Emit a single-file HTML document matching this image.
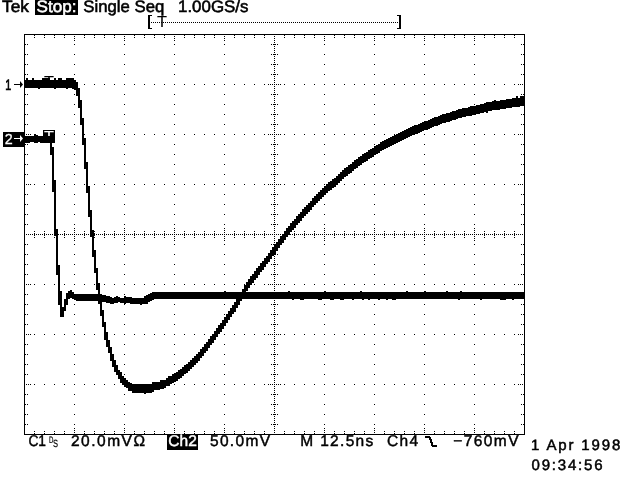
<!DOCTYPE html>
<html><head><meta charset="utf-8"><title>Tek</title>
<style>
html,body{margin:0;padding:0;background:#fff;}
body{width:640px;height:480px;overflow:hidden;position:relative;}
svg{position:absolute;left:0;top:0;display:block;}
text{font-family:"Liberation Sans",sans-serif;font-size:15.5px;fill:#000;stroke:#000;stroke-width:0.45px;}
.w{fill:#fff;stroke:#fff;}
.t{font-size:16.5px;stroke-width:0.55px;}
.d{font-size:15px;stroke-width:0.5px;}
</style></head><body>
<svg width="640" height="480" viewBox="0 0 640 480" shape-rendering="crispEdges">
<rect width="640" height="480" fill="#fff"/>
<!-- graticule -->
<path d="M25 44h1v1h-1zM25 54h1v1h-1zM25 64h1v1h-1zM25 74h1v1h-1zM25 94h1v1h-1zM25 104h1v1h-1zM25 114h1v1h-1zM25 124h1v1h-1zM25 144h1v1h-1zM25 154h1v1h-1zM25 164h1v1h-1zM25 174h1v1h-1zM25 194h1v1h-1zM25 204h1v1h-1zM25 214h1v1h-1zM25 224h1v1h-1zM25 244h1v1h-1zM25 254h1v1h-1zM25 264h1v1h-1zM25 274h1v1h-1zM25 294h1v1h-1zM25 304h1v1h-1zM25 314h1v1h-1zM25 324h1v1h-1zM25 344h1v1h-1zM25 354h1v1h-1zM25 364h1v1h-1zM25 374h1v1h-1zM25 394h1v1h-1zM25 404h1v1h-1zM25 414h1v1h-1zM25 424h1v1h-1zM26 84h1v1h-1zM26 134h1v1h-1zM26 184h1v1h-1zM26 234h1v1h-1zM26 284h1v1h-1zM26 334h1v1h-1zM26 384h1v1h-1zM27 44h1v1h-1zM27 54h1v1h-1zM27 64h1v1h-1zM27 74h1v1h-1zM27 94h1v1h-1zM27 104h1v1h-1zM27 114h1v1h-1zM27 124h1v1h-1zM27 144h1v1h-1zM27 154h1v1h-1zM27 164h1v1h-1zM27 174h1v1h-1zM27 194h1v1h-1zM27 204h1v1h-1zM27 214h1v1h-1zM27 224h1v1h-1zM27 244h1v1h-1zM27 254h1v1h-1zM27 264h1v1h-1zM27 274h1v1h-1zM27 294h1v1h-1zM27 304h1v1h-1zM27 314h1v1h-1zM27 324h1v1h-1zM27 344h1v1h-1zM27 354h1v1h-1zM27 364h1v1h-1zM27 374h1v1h-1zM27 394h1v1h-1zM27 404h1v1h-1zM27 414h1v1h-1zM27 424h1v1h-1zM28 84h1v1h-1zM28 134h1v1h-1zM28 184h1v1h-1zM28 234h1v1h-1zM28 284h1v1h-1zM28 334h1v1h-1zM28 384h1v1h-1zM30 84h1v1h-1zM30 134h1v1h-1zM30 184h1v1h-1zM30 234h1v1h-1zM30 284h1v1h-1zM30 334h1v1h-1zM30 384h1v1h-1zM32 234h1v1h-1zM34 35h1v1h-1zM34 37h1v1h-1zM34 84h1v1h-1zM34 134h1v1h-1zM34 184h1v1h-1zM34 231h1v1h-1zM34 233h1v1h-1zM34 234h1v1h-1zM34 235h1v1h-1zM34 237h1v1h-1zM34 284h1v1h-1zM34 334h1v1h-1zM34 384h1v1h-1zM34 431h1v1h-1zM34 433h1v1h-1zM36 234h1v1h-1zM38 234h1v1h-1zM40 234h1v1h-1zM42 234h1v1h-1zM44 35h1v1h-1zM44 37h1v1h-1zM44 84h1v1h-1zM44 134h1v1h-1zM44 184h1v1h-1zM44 231h1v1h-1zM44 233h1v1h-1zM44 234h1v1h-1zM44 235h1v1h-1zM44 237h1v1h-1zM44 284h1v1h-1zM44 334h1v1h-1zM44 384h1v1h-1zM44 431h1v1h-1zM44 433h1v1h-1zM46 234h1v1h-1zM48 234h1v1h-1zM50 234h1v1h-1zM52 234h1v1h-1zM54 35h1v1h-1zM54 37h1v1h-1zM54 84h1v1h-1zM54 134h1v1h-1zM54 184h1v1h-1zM54 231h1v1h-1zM54 233h1v1h-1zM54 234h1v1h-1zM54 235h1v1h-1zM54 237h1v1h-1zM54 284h1v1h-1zM54 334h1v1h-1zM54 384h1v1h-1zM54 431h1v1h-1zM54 433h1v1h-1zM56 234h1v1h-1zM58 234h1v1h-1zM60 234h1v1h-1zM62 234h1v1h-1zM64 35h1v1h-1zM64 37h1v1h-1zM64 84h1v1h-1zM64 134h1v1h-1zM64 184h1v1h-1zM64 231h1v1h-1zM64 233h1v1h-1zM64 234h1v1h-1zM64 235h1v1h-1zM64 237h1v1h-1zM64 284h1v1h-1zM64 334h1v1h-1zM64 384h1v1h-1zM64 431h1v1h-1zM64 433h1v1h-1zM66 234h1v1h-1zM68 234h1v1h-1zM70 234h1v1h-1zM72 234h1v1h-1zM74 36h1v1h-1zM74 38h1v1h-1zM74 40h1v1h-1zM74 44h1v1h-1zM74 54h1v1h-1zM74 64h1v1h-1zM74 74h1v1h-1zM74 84h1v1h-1zM74 94h1v1h-1zM74 104h1v1h-1zM74 114h1v1h-1zM74 124h1v1h-1zM74 134h1v1h-1zM74 144h1v1h-1zM74 154h1v1h-1zM74 164h1v1h-1zM74 174h1v1h-1zM74 184h1v1h-1zM74 194h1v1h-1zM74 204h1v1h-1zM74 214h1v1h-1zM74 224h1v1h-1zM74 228h1v1h-1zM74 230h1v1h-1zM74 232h1v1h-1zM74 234h1v1h-1zM74 236h1v1h-1zM74 238h1v1h-1zM74 240h1v1h-1zM74 244h1v1h-1zM74 254h1v1h-1zM74 264h1v1h-1zM74 274h1v1h-1zM74 284h1v1h-1zM74 294h1v1h-1zM74 304h1v1h-1zM74 314h1v1h-1zM74 324h1v1h-1zM74 334h1v1h-1zM74 344h1v1h-1zM74 354h1v1h-1zM74 364h1v1h-1zM74 374h1v1h-1zM74 384h1v1h-1zM74 394h1v1h-1zM74 404h1v1h-1zM74 414h1v1h-1zM74 424h1v1h-1zM74 428h1v1h-1zM74 430h1v1h-1zM74 432h1v1h-1zM76 234h1v1h-1zM78 234h1v1h-1zM80 234h1v1h-1zM82 234h1v1h-1zM84 35h1v1h-1zM84 37h1v1h-1zM84 84h1v1h-1zM84 134h1v1h-1zM84 184h1v1h-1zM84 231h1v1h-1zM84 233h1v1h-1zM84 234h1v1h-1zM84 235h1v1h-1zM84 237h1v1h-1zM84 284h1v1h-1zM84 334h1v1h-1zM84 384h1v1h-1zM84 431h1v1h-1zM84 433h1v1h-1zM86 234h1v1h-1zM88 234h1v1h-1zM90 234h1v1h-1zM92 234h1v1h-1zM94 35h1v1h-1zM94 37h1v1h-1zM94 84h1v1h-1zM94 134h1v1h-1zM94 184h1v1h-1zM94 231h1v1h-1zM94 233h1v1h-1zM94 234h1v1h-1zM94 235h1v1h-1zM94 237h1v1h-1zM94 284h1v1h-1zM94 334h1v1h-1zM94 384h1v1h-1zM94 431h1v1h-1zM94 433h1v1h-1zM96 234h1v1h-1zM98 234h1v1h-1zM100 234h1v1h-1zM102 234h1v1h-1zM104 35h1v1h-1zM104 37h1v1h-1zM104 84h1v1h-1zM104 134h1v1h-1zM104 184h1v1h-1zM104 231h1v1h-1zM104 233h1v1h-1zM104 234h1v1h-1zM104 235h1v1h-1zM104 237h1v1h-1zM104 284h1v1h-1zM104 334h1v1h-1zM104 384h1v1h-1zM104 431h1v1h-1zM104 433h1v1h-1zM106 234h1v1h-1zM108 234h1v1h-1zM110 234h1v1h-1zM112 234h1v1h-1zM114 35h1v1h-1zM114 37h1v1h-1zM114 84h1v1h-1zM114 134h1v1h-1zM114 184h1v1h-1zM114 231h1v1h-1zM114 233h1v1h-1zM114 234h1v1h-1zM114 235h1v1h-1zM114 237h1v1h-1zM114 284h1v1h-1zM114 334h1v1h-1zM114 384h1v1h-1zM114 431h1v1h-1zM114 433h1v1h-1zM116 234h1v1h-1zM118 234h1v1h-1zM120 234h1v1h-1zM122 234h1v1h-1zM124 36h1v1h-1zM124 38h1v1h-1zM124 40h1v1h-1zM124 44h1v1h-1zM124 54h1v1h-1zM124 64h1v1h-1zM124 74h1v1h-1zM124 84h1v1h-1zM124 94h1v1h-1zM124 104h1v1h-1zM124 114h1v1h-1zM124 124h1v1h-1zM124 134h1v1h-1zM124 144h1v1h-1zM124 154h1v1h-1zM124 164h1v1h-1zM124 174h1v1h-1zM124 184h1v1h-1zM124 194h1v1h-1zM124 204h1v1h-1zM124 214h1v1h-1zM124 224h1v1h-1zM124 228h1v1h-1zM124 230h1v1h-1zM124 232h1v1h-1zM124 234h1v1h-1zM124 236h1v1h-1zM124 238h1v1h-1zM124 240h1v1h-1zM124 244h1v1h-1zM124 254h1v1h-1zM124 264h1v1h-1zM124 274h1v1h-1zM124 284h1v1h-1zM124 294h1v1h-1zM124 304h1v1h-1zM124 314h1v1h-1zM124 324h1v1h-1zM124 334h1v1h-1zM124 344h1v1h-1zM124 354h1v1h-1zM124 364h1v1h-1zM124 374h1v1h-1zM124 384h1v1h-1zM124 394h1v1h-1zM124 404h1v1h-1zM124 414h1v1h-1zM124 424h1v1h-1zM124 428h1v1h-1zM124 430h1v1h-1zM124 432h1v1h-1zM126 234h1v1h-1zM128 234h1v1h-1zM130 234h1v1h-1zM132 234h1v1h-1zM134 35h1v1h-1zM134 37h1v1h-1zM134 84h1v1h-1zM134 134h1v1h-1zM134 184h1v1h-1zM134 231h1v1h-1zM134 233h1v1h-1zM134 234h1v1h-1zM134 235h1v1h-1zM134 237h1v1h-1zM134 284h1v1h-1zM134 334h1v1h-1zM134 384h1v1h-1zM134 431h1v1h-1zM134 433h1v1h-1zM136 234h1v1h-1zM138 234h1v1h-1zM140 234h1v1h-1zM142 234h1v1h-1zM144 35h1v1h-1zM144 37h1v1h-1zM144 84h1v1h-1zM144 134h1v1h-1zM144 184h1v1h-1zM144 231h1v1h-1zM144 233h1v1h-1zM144 234h1v1h-1zM144 235h1v1h-1zM144 237h1v1h-1zM144 284h1v1h-1zM144 334h1v1h-1zM144 384h1v1h-1zM144 431h1v1h-1zM144 433h1v1h-1zM146 234h1v1h-1zM148 234h1v1h-1zM150 234h1v1h-1zM152 234h1v1h-1zM154 35h1v1h-1zM154 37h1v1h-1zM154 84h1v1h-1zM154 134h1v1h-1zM154 184h1v1h-1zM154 231h1v1h-1zM154 233h1v1h-1zM154 234h1v1h-1zM154 235h1v1h-1zM154 237h1v1h-1zM154 284h1v1h-1zM154 334h1v1h-1zM154 384h1v1h-1zM154 431h1v1h-1zM154 433h1v1h-1zM156 234h1v1h-1zM158 234h1v1h-1zM160 234h1v1h-1zM162 234h1v1h-1zM164 35h1v1h-1zM164 37h1v1h-1zM164 84h1v1h-1zM164 134h1v1h-1zM164 184h1v1h-1zM164 231h1v1h-1zM164 233h1v1h-1zM164 234h1v1h-1zM164 235h1v1h-1zM164 237h1v1h-1zM164 284h1v1h-1zM164 334h1v1h-1zM164 384h1v1h-1zM164 431h1v1h-1zM164 433h1v1h-1zM166 234h1v1h-1zM168 234h1v1h-1zM170 234h1v1h-1zM172 234h1v1h-1zM174 36h1v1h-1zM174 38h1v1h-1zM174 40h1v1h-1zM174 44h1v1h-1zM174 54h1v1h-1zM174 64h1v1h-1zM174 74h1v1h-1zM174 84h1v1h-1zM174 94h1v1h-1zM174 104h1v1h-1zM174 114h1v1h-1zM174 124h1v1h-1zM174 134h1v1h-1zM174 144h1v1h-1zM174 154h1v1h-1zM174 164h1v1h-1zM174 174h1v1h-1zM174 184h1v1h-1zM174 194h1v1h-1zM174 204h1v1h-1zM174 214h1v1h-1zM174 224h1v1h-1zM174 228h1v1h-1zM174 230h1v1h-1zM174 232h1v1h-1zM174 234h1v1h-1zM174 236h1v1h-1zM174 238h1v1h-1zM174 240h1v1h-1zM174 244h1v1h-1zM174 254h1v1h-1zM174 264h1v1h-1zM174 274h1v1h-1zM174 284h1v1h-1zM174 294h1v1h-1zM174 304h1v1h-1zM174 314h1v1h-1zM174 324h1v1h-1zM174 334h1v1h-1zM174 344h1v1h-1zM174 354h1v1h-1zM174 364h1v1h-1zM174 374h1v1h-1zM174 384h1v1h-1zM174 394h1v1h-1zM174 404h1v1h-1zM174 414h1v1h-1zM174 424h1v1h-1zM174 428h1v1h-1zM174 430h1v1h-1zM174 432h1v1h-1zM176 234h1v1h-1zM178 234h1v1h-1zM180 234h1v1h-1zM182 234h1v1h-1zM184 35h1v1h-1zM184 37h1v1h-1zM184 84h1v1h-1zM184 134h1v1h-1zM184 184h1v1h-1zM184 231h1v1h-1zM184 233h1v1h-1zM184 234h1v1h-1zM184 235h1v1h-1zM184 237h1v1h-1zM184 284h1v1h-1zM184 334h1v1h-1zM184 384h1v1h-1zM184 431h1v1h-1zM184 433h1v1h-1zM186 234h1v1h-1zM188 234h1v1h-1zM190 234h1v1h-1zM192 234h1v1h-1zM194 35h1v1h-1zM194 37h1v1h-1zM194 84h1v1h-1zM194 134h1v1h-1zM194 184h1v1h-1zM194 231h1v1h-1zM194 233h1v1h-1zM194 234h1v1h-1zM194 235h1v1h-1zM194 237h1v1h-1zM194 284h1v1h-1zM194 334h1v1h-1zM194 384h1v1h-1zM194 431h1v1h-1zM194 433h1v1h-1zM196 234h1v1h-1zM198 234h1v1h-1zM200 234h1v1h-1zM202 234h1v1h-1zM204 35h1v1h-1zM204 37h1v1h-1zM204 84h1v1h-1zM204 134h1v1h-1zM204 184h1v1h-1zM204 231h1v1h-1zM204 233h1v1h-1zM204 234h1v1h-1zM204 235h1v1h-1zM204 237h1v1h-1zM204 284h1v1h-1zM204 334h1v1h-1zM204 384h1v1h-1zM204 431h1v1h-1zM204 433h1v1h-1zM206 234h1v1h-1zM208 234h1v1h-1zM210 234h1v1h-1zM212 234h1v1h-1zM214 35h1v1h-1zM214 37h1v1h-1zM214 84h1v1h-1zM214 134h1v1h-1zM214 184h1v1h-1zM214 231h1v1h-1zM214 233h1v1h-1zM214 234h1v1h-1zM214 235h1v1h-1zM214 237h1v1h-1zM214 284h1v1h-1zM214 334h1v1h-1zM214 384h1v1h-1zM214 431h1v1h-1zM214 433h1v1h-1zM216 234h1v1h-1zM218 234h1v1h-1zM220 234h1v1h-1zM222 234h1v1h-1zM224 36h1v1h-1zM224 38h1v1h-1zM224 40h1v1h-1zM224 44h1v1h-1zM224 54h1v1h-1zM224 64h1v1h-1zM224 74h1v1h-1zM224 84h1v1h-1zM224 94h1v1h-1zM224 104h1v1h-1zM224 114h1v1h-1zM224 124h1v1h-1zM224 134h1v1h-1zM224 144h1v1h-1zM224 154h1v1h-1zM224 164h1v1h-1zM224 174h1v1h-1zM224 184h1v1h-1zM224 194h1v1h-1zM224 204h1v1h-1zM224 214h1v1h-1zM224 224h1v1h-1zM224 228h1v1h-1zM224 230h1v1h-1zM224 232h1v1h-1zM224 234h1v1h-1zM224 236h1v1h-1zM224 238h1v1h-1zM224 240h1v1h-1zM224 244h1v1h-1zM224 254h1v1h-1zM224 264h1v1h-1zM224 274h1v1h-1zM224 284h1v1h-1zM224 294h1v1h-1zM224 304h1v1h-1zM224 314h1v1h-1zM224 324h1v1h-1zM224 334h1v1h-1zM224 344h1v1h-1zM224 354h1v1h-1zM224 364h1v1h-1zM224 374h1v1h-1zM224 384h1v1h-1zM224 394h1v1h-1zM224 404h1v1h-1zM224 414h1v1h-1zM224 424h1v1h-1zM224 428h1v1h-1zM224 430h1v1h-1zM224 432h1v1h-1zM226 234h1v1h-1zM228 234h1v1h-1zM230 234h1v1h-1zM232 234h1v1h-1zM234 35h1v1h-1zM234 37h1v1h-1zM234 84h1v1h-1zM234 134h1v1h-1zM234 184h1v1h-1zM234 231h1v1h-1zM234 233h1v1h-1zM234 234h1v1h-1zM234 235h1v1h-1zM234 237h1v1h-1zM234 284h1v1h-1zM234 334h1v1h-1zM234 384h1v1h-1zM234 431h1v1h-1zM234 433h1v1h-1zM236 234h1v1h-1zM238 234h1v1h-1zM240 234h1v1h-1zM242 234h1v1h-1zM244 35h1v1h-1zM244 37h1v1h-1zM244 84h1v1h-1zM244 134h1v1h-1zM244 184h1v1h-1zM244 231h1v1h-1zM244 233h1v1h-1zM244 234h1v1h-1zM244 235h1v1h-1zM244 237h1v1h-1zM244 284h1v1h-1zM244 334h1v1h-1zM244 384h1v1h-1zM244 431h1v1h-1zM244 433h1v1h-1zM246 234h1v1h-1zM248 234h1v1h-1zM250 234h1v1h-1zM252 234h1v1h-1zM254 35h1v1h-1zM254 37h1v1h-1zM254 84h1v1h-1zM254 134h1v1h-1zM254 184h1v1h-1zM254 231h1v1h-1zM254 233h1v1h-1zM254 234h1v1h-1zM254 235h1v1h-1zM254 237h1v1h-1zM254 284h1v1h-1zM254 334h1v1h-1zM254 384h1v1h-1zM254 431h1v1h-1zM254 433h1v1h-1zM256 234h1v1h-1zM258 234h1v1h-1zM260 234h1v1h-1zM262 234h1v1h-1zM264 35h1v1h-1zM264 37h1v1h-1zM264 84h1v1h-1zM264 134h1v1h-1zM264 184h1v1h-1zM264 231h1v1h-1zM264 233h1v1h-1zM264 234h1v1h-1zM264 235h1v1h-1zM264 237h1v1h-1zM264 284h1v1h-1zM264 334h1v1h-1zM264 384h1v1h-1zM264 431h1v1h-1zM264 433h1v1h-1zM266 234h1v1h-1zM268 84h1v1h-1zM268 134h1v1h-1zM268 184h1v1h-1zM268 234h1v1h-1zM268 284h1v1h-1zM268 334h1v1h-1zM268 384h1v1h-1zM270 84h1v1h-1zM270 134h1v1h-1zM270 184h1v1h-1zM270 234h1v1h-1zM270 284h1v1h-1zM270 334h1v1h-1zM270 384h1v1h-1zM271 44h1v1h-1zM271 54h1v1h-1zM271 64h1v1h-1zM271 74h1v1h-1zM271 94h1v1h-1zM271 104h1v1h-1zM271 114h1v1h-1zM271 124h1v1h-1zM271 144h1v1h-1zM271 154h1v1h-1zM271 164h1v1h-1zM271 174h1v1h-1zM271 194h1v1h-1zM271 204h1v1h-1zM271 214h1v1h-1zM271 224h1v1h-1zM271 244h1v1h-1zM271 254h1v1h-1zM271 264h1v1h-1zM271 274h1v1h-1zM271 294h1v1h-1zM271 304h1v1h-1zM271 314h1v1h-1zM271 324h1v1h-1zM271 344h1v1h-1zM271 354h1v1h-1zM271 364h1v1h-1zM271 374h1v1h-1zM271 394h1v1h-1zM271 404h1v1h-1zM271 414h1v1h-1zM271 424h1v1h-1zM272 84h1v1h-1zM272 134h1v1h-1zM272 184h1v1h-1zM272 234h1v1h-1zM272 284h1v1h-1zM272 334h1v1h-1zM272 384h1v1h-1zM273 44h1v1h-1zM273 54h1v1h-1zM273 64h1v1h-1zM273 74h1v1h-1zM273 94h1v1h-1zM273 104h1v1h-1zM273 114h1v1h-1zM273 124h1v1h-1zM273 144h1v1h-1zM273 154h1v1h-1zM273 164h1v1h-1zM273 174h1v1h-1zM273 194h1v1h-1zM273 204h1v1h-1zM273 214h1v1h-1zM273 224h1v1h-1zM273 244h1v1h-1zM273 254h1v1h-1zM273 264h1v1h-1zM273 274h1v1h-1zM273 294h1v1h-1zM273 304h1v1h-1zM273 314h1v1h-1zM273 324h1v1h-1zM273 344h1v1h-1zM273 354h1v1h-1zM273 364h1v1h-1zM273 374h1v1h-1zM273 394h1v1h-1zM273 404h1v1h-1zM273 414h1v1h-1zM273 424h1v1h-1zM274 36h1v1h-1zM274 38h1v1h-1zM274 40h1v1h-1zM274 42h1v1h-1zM274 44h1v1h-1zM274 46h1v1h-1zM274 48h1v1h-1zM274 50h1v1h-1zM274 52h1v1h-1zM274 54h1v1h-1zM274 56h1v1h-1zM274 58h1v1h-1zM274 60h1v1h-1zM274 62h1v1h-1zM274 64h1v1h-1zM274 66h1v1h-1zM274 68h1v1h-1zM274 70h1v1h-1zM274 72h1v1h-1zM274 74h1v1h-1zM274 76h1v1h-1zM274 78h1v1h-1zM274 80h1v1h-1zM274 82h1v1h-1zM274 84h1v1h-1zM274 86h1v1h-1zM274 88h1v1h-1zM274 90h1v1h-1zM274 92h1v1h-1zM274 94h1v1h-1zM274 96h1v1h-1zM274 98h1v1h-1zM274 100h1v1h-1zM274 102h1v1h-1zM274 104h1v1h-1zM274 106h1v1h-1zM274 108h1v1h-1zM274 110h1v1h-1zM274 112h1v1h-1zM274 114h1v1h-1zM274 116h1v1h-1zM274 118h1v1h-1zM274 120h1v1h-1zM274 122h1v1h-1zM274 124h1v1h-1zM274 126h1v1h-1zM274 128h1v1h-1zM274 130h1v1h-1zM274 132h1v1h-1zM274 134h1v1h-1zM274 136h1v1h-1zM274 138h1v1h-1zM274 140h1v1h-1zM274 142h1v1h-1zM274 144h1v1h-1zM274 146h1v1h-1zM274 148h1v1h-1zM274 150h1v1h-1zM274 152h1v1h-1zM274 154h1v1h-1zM274 156h1v1h-1zM274 158h1v1h-1zM274 160h1v1h-1zM274 162h1v1h-1zM274 164h1v1h-1zM274 166h1v1h-1zM274 168h1v1h-1zM274 170h1v1h-1zM274 172h1v1h-1zM274 174h1v1h-1zM274 176h1v1h-1zM274 178h1v1h-1zM274 180h1v1h-1zM274 182h1v1h-1zM274 184h1v1h-1zM274 186h1v1h-1zM274 188h1v1h-1zM274 190h1v1h-1zM274 192h1v1h-1zM274 194h1v1h-1zM274 196h1v1h-1zM274 198h1v1h-1zM274 200h1v1h-1zM274 202h1v1h-1zM274 204h1v1h-1zM274 206h1v1h-1zM274 208h1v1h-1zM274 210h1v1h-1zM274 212h1v1h-1zM274 214h1v1h-1zM274 216h1v1h-1zM274 218h1v1h-1zM274 220h1v1h-1zM274 222h1v1h-1zM274 224h1v1h-1zM274 226h1v1h-1zM274 228h1v1h-1zM274 230h1v1h-1zM274 232h1v1h-1zM274 234h1v1h-1zM274 236h1v1h-1zM274 238h1v1h-1zM274 240h1v1h-1zM274 242h1v1h-1zM274 244h1v1h-1zM274 246h1v1h-1zM274 248h1v1h-1zM274 250h1v1h-1zM274 252h1v1h-1zM274 254h1v1h-1zM274 256h1v1h-1zM274 258h1v1h-1zM274 260h1v1h-1zM274 262h1v1h-1zM274 264h1v1h-1zM274 266h1v1h-1zM274 268h1v1h-1zM274 270h1v1h-1zM274 272h1v1h-1zM274 274h1v1h-1zM274 276h1v1h-1zM274 278h1v1h-1zM274 280h1v1h-1zM274 282h1v1h-1zM274 284h1v1h-1zM274 286h1v1h-1zM274 288h1v1h-1zM274 290h1v1h-1zM274 292h1v1h-1zM274 294h1v1h-1zM274 296h1v1h-1zM274 298h1v1h-1zM274 300h1v1h-1zM274 302h1v1h-1zM274 304h1v1h-1zM274 306h1v1h-1zM274 308h1v1h-1zM274 310h1v1h-1zM274 312h1v1h-1zM274 314h1v1h-1zM274 316h1v1h-1zM274 318h1v1h-1zM274 320h1v1h-1zM274 322h1v1h-1zM274 324h1v1h-1zM274 326h1v1h-1zM274 328h1v1h-1zM274 330h1v1h-1zM274 332h1v1h-1zM274 334h1v1h-1zM274 336h1v1h-1zM274 338h1v1h-1zM274 340h1v1h-1zM274 342h1v1h-1zM274 344h1v1h-1zM274 346h1v1h-1zM274 348h1v1h-1zM274 350h1v1h-1zM274 352h1v1h-1zM274 354h1v1h-1zM274 356h1v1h-1zM274 358h1v1h-1zM274 360h1v1h-1zM274 362h1v1h-1zM274 364h1v1h-1zM274 366h1v1h-1zM274 368h1v1h-1zM274 370h1v1h-1zM274 372h1v1h-1zM274 374h1v1h-1zM274 376h1v1h-1zM274 378h1v1h-1zM274 380h1v1h-1zM274 382h1v1h-1zM274 384h1v1h-1zM274 386h1v1h-1zM274 388h1v1h-1zM274 390h1v1h-1zM274 392h1v1h-1zM274 394h1v1h-1zM274 396h1v1h-1zM274 398h1v1h-1zM274 400h1v1h-1zM274 402h1v1h-1zM274 404h1v1h-1zM274 406h1v1h-1zM274 408h1v1h-1zM274 410h1v1h-1zM274 412h1v1h-1zM274 414h1v1h-1zM274 416h1v1h-1zM274 418h1v1h-1zM274 420h1v1h-1zM274 422h1v1h-1zM274 424h1v1h-1zM274 426h1v1h-1zM274 428h1v1h-1zM274 430h1v1h-1zM274 432h1v1h-1zM275 44h1v1h-1zM275 54h1v1h-1zM275 64h1v1h-1zM275 74h1v1h-1zM275 94h1v1h-1zM275 104h1v1h-1zM275 114h1v1h-1zM275 124h1v1h-1zM275 144h1v1h-1zM275 154h1v1h-1zM275 164h1v1h-1zM275 174h1v1h-1zM275 194h1v1h-1zM275 204h1v1h-1zM275 214h1v1h-1zM275 224h1v1h-1zM275 244h1v1h-1zM275 254h1v1h-1zM275 264h1v1h-1zM275 274h1v1h-1zM275 294h1v1h-1zM275 304h1v1h-1zM275 314h1v1h-1zM275 324h1v1h-1zM275 344h1v1h-1zM275 354h1v1h-1zM275 364h1v1h-1zM275 374h1v1h-1zM275 394h1v1h-1zM275 404h1v1h-1zM275 414h1v1h-1zM275 424h1v1h-1zM276 84h1v1h-1zM276 134h1v1h-1zM276 184h1v1h-1zM276 234h1v1h-1zM276 284h1v1h-1zM276 334h1v1h-1zM276 384h1v1h-1zM277 44h1v1h-1zM277 54h1v1h-1zM277 64h1v1h-1zM277 74h1v1h-1zM277 94h1v1h-1zM277 104h1v1h-1zM277 114h1v1h-1zM277 124h1v1h-1zM277 144h1v1h-1zM277 154h1v1h-1zM277 164h1v1h-1zM277 174h1v1h-1zM277 194h1v1h-1zM277 204h1v1h-1zM277 214h1v1h-1zM277 224h1v1h-1zM277 244h1v1h-1zM277 254h1v1h-1zM277 264h1v1h-1zM277 274h1v1h-1zM277 294h1v1h-1zM277 304h1v1h-1zM277 314h1v1h-1zM277 324h1v1h-1zM277 344h1v1h-1zM277 354h1v1h-1zM277 364h1v1h-1zM277 374h1v1h-1zM277 394h1v1h-1zM277 404h1v1h-1zM277 414h1v1h-1zM277 424h1v1h-1zM278 84h1v1h-1zM278 134h1v1h-1zM278 184h1v1h-1zM278 234h1v1h-1zM278 284h1v1h-1zM278 334h1v1h-1zM278 384h1v1h-1zM280 84h1v1h-1zM280 134h1v1h-1zM280 184h1v1h-1zM280 234h1v1h-1zM280 284h1v1h-1zM280 334h1v1h-1zM280 384h1v1h-1zM282 234h1v1h-1zM284 35h1v1h-1zM284 37h1v1h-1zM284 84h1v1h-1zM284 134h1v1h-1zM284 184h1v1h-1zM284 231h1v1h-1zM284 233h1v1h-1zM284 234h1v1h-1zM284 235h1v1h-1zM284 237h1v1h-1zM284 284h1v1h-1zM284 334h1v1h-1zM284 384h1v1h-1zM284 431h1v1h-1zM284 433h1v1h-1zM286 234h1v1h-1zM288 234h1v1h-1zM290 234h1v1h-1zM292 234h1v1h-1zM294 35h1v1h-1zM294 37h1v1h-1zM294 84h1v1h-1zM294 134h1v1h-1zM294 184h1v1h-1zM294 231h1v1h-1zM294 233h1v1h-1zM294 234h1v1h-1zM294 235h1v1h-1zM294 237h1v1h-1zM294 284h1v1h-1zM294 334h1v1h-1zM294 384h1v1h-1zM294 431h1v1h-1zM294 433h1v1h-1zM296 234h1v1h-1zM298 234h1v1h-1zM300 234h1v1h-1zM302 234h1v1h-1zM304 35h1v1h-1zM304 37h1v1h-1zM304 84h1v1h-1zM304 134h1v1h-1zM304 184h1v1h-1zM304 231h1v1h-1zM304 233h1v1h-1zM304 234h1v1h-1zM304 235h1v1h-1zM304 237h1v1h-1zM304 284h1v1h-1zM304 334h1v1h-1zM304 384h1v1h-1zM304 431h1v1h-1zM304 433h1v1h-1zM306 234h1v1h-1zM308 234h1v1h-1zM310 234h1v1h-1zM312 234h1v1h-1zM314 35h1v1h-1zM314 37h1v1h-1zM314 84h1v1h-1zM314 134h1v1h-1zM314 184h1v1h-1zM314 231h1v1h-1zM314 233h1v1h-1zM314 234h1v1h-1zM314 235h1v1h-1zM314 237h1v1h-1zM314 284h1v1h-1zM314 334h1v1h-1zM314 384h1v1h-1zM314 431h1v1h-1zM314 433h1v1h-1zM316 234h1v1h-1zM318 234h1v1h-1zM320 234h1v1h-1zM322 234h1v1h-1zM324 36h1v1h-1zM324 38h1v1h-1zM324 40h1v1h-1zM324 44h1v1h-1zM324 54h1v1h-1zM324 64h1v1h-1zM324 74h1v1h-1zM324 84h1v1h-1zM324 94h1v1h-1zM324 104h1v1h-1zM324 114h1v1h-1zM324 124h1v1h-1zM324 134h1v1h-1zM324 144h1v1h-1zM324 154h1v1h-1zM324 164h1v1h-1zM324 174h1v1h-1zM324 184h1v1h-1zM324 194h1v1h-1zM324 204h1v1h-1zM324 214h1v1h-1zM324 224h1v1h-1zM324 228h1v1h-1zM324 230h1v1h-1zM324 232h1v1h-1zM324 234h1v1h-1zM324 236h1v1h-1zM324 238h1v1h-1zM324 240h1v1h-1zM324 244h1v1h-1zM324 254h1v1h-1zM324 264h1v1h-1zM324 274h1v1h-1zM324 284h1v1h-1zM324 294h1v1h-1zM324 304h1v1h-1zM324 314h1v1h-1zM324 324h1v1h-1zM324 334h1v1h-1zM324 344h1v1h-1zM324 354h1v1h-1zM324 364h1v1h-1zM324 374h1v1h-1zM324 384h1v1h-1zM324 394h1v1h-1zM324 404h1v1h-1zM324 414h1v1h-1zM324 424h1v1h-1zM324 428h1v1h-1zM324 430h1v1h-1zM324 432h1v1h-1zM326 234h1v1h-1zM328 234h1v1h-1zM330 234h1v1h-1zM332 234h1v1h-1zM334 35h1v1h-1zM334 37h1v1h-1zM334 84h1v1h-1zM334 134h1v1h-1zM334 184h1v1h-1zM334 231h1v1h-1zM334 233h1v1h-1zM334 234h1v1h-1zM334 235h1v1h-1zM334 237h1v1h-1zM334 284h1v1h-1zM334 334h1v1h-1zM334 384h1v1h-1zM334 431h1v1h-1zM334 433h1v1h-1zM336 234h1v1h-1zM338 234h1v1h-1zM340 234h1v1h-1zM342 234h1v1h-1zM344 35h1v1h-1zM344 37h1v1h-1zM344 84h1v1h-1zM344 134h1v1h-1zM344 184h1v1h-1zM344 231h1v1h-1zM344 233h1v1h-1zM344 234h1v1h-1zM344 235h1v1h-1zM344 237h1v1h-1zM344 284h1v1h-1zM344 334h1v1h-1zM344 384h1v1h-1zM344 431h1v1h-1zM344 433h1v1h-1zM346 234h1v1h-1zM348 234h1v1h-1zM350 234h1v1h-1zM352 234h1v1h-1zM354 35h1v1h-1zM354 37h1v1h-1zM354 84h1v1h-1zM354 134h1v1h-1zM354 184h1v1h-1zM354 231h1v1h-1zM354 233h1v1h-1zM354 234h1v1h-1zM354 235h1v1h-1zM354 237h1v1h-1zM354 284h1v1h-1zM354 334h1v1h-1zM354 384h1v1h-1zM354 431h1v1h-1zM354 433h1v1h-1zM356 234h1v1h-1zM358 234h1v1h-1zM360 234h1v1h-1zM362 234h1v1h-1zM364 35h1v1h-1zM364 37h1v1h-1zM364 84h1v1h-1zM364 134h1v1h-1zM364 184h1v1h-1zM364 231h1v1h-1zM364 233h1v1h-1zM364 234h1v1h-1zM364 235h1v1h-1zM364 237h1v1h-1zM364 284h1v1h-1zM364 334h1v1h-1zM364 384h1v1h-1zM364 431h1v1h-1zM364 433h1v1h-1zM366 234h1v1h-1zM368 234h1v1h-1zM370 234h1v1h-1zM372 234h1v1h-1zM374 36h1v1h-1zM374 38h1v1h-1zM374 40h1v1h-1zM374 44h1v1h-1zM374 54h1v1h-1zM374 64h1v1h-1zM374 74h1v1h-1zM374 84h1v1h-1zM374 94h1v1h-1zM374 104h1v1h-1zM374 114h1v1h-1zM374 124h1v1h-1zM374 134h1v1h-1zM374 144h1v1h-1zM374 154h1v1h-1zM374 164h1v1h-1zM374 174h1v1h-1zM374 184h1v1h-1zM374 194h1v1h-1zM374 204h1v1h-1zM374 214h1v1h-1zM374 224h1v1h-1zM374 228h1v1h-1zM374 230h1v1h-1zM374 232h1v1h-1zM374 234h1v1h-1zM374 236h1v1h-1zM374 238h1v1h-1zM374 240h1v1h-1zM374 244h1v1h-1zM374 254h1v1h-1zM374 264h1v1h-1zM374 274h1v1h-1zM374 284h1v1h-1zM374 294h1v1h-1zM374 304h1v1h-1zM374 314h1v1h-1zM374 324h1v1h-1zM374 334h1v1h-1zM374 344h1v1h-1zM374 354h1v1h-1zM374 364h1v1h-1zM374 374h1v1h-1zM374 384h1v1h-1zM374 394h1v1h-1zM374 404h1v1h-1zM374 414h1v1h-1zM374 424h1v1h-1zM374 428h1v1h-1zM374 430h1v1h-1zM374 432h1v1h-1zM376 234h1v1h-1zM378 234h1v1h-1zM380 234h1v1h-1zM382 234h1v1h-1zM384 35h1v1h-1zM384 37h1v1h-1zM384 84h1v1h-1zM384 134h1v1h-1zM384 184h1v1h-1zM384 231h1v1h-1zM384 233h1v1h-1zM384 234h1v1h-1zM384 235h1v1h-1zM384 237h1v1h-1zM384 284h1v1h-1zM384 334h1v1h-1zM384 384h1v1h-1zM384 431h1v1h-1zM384 433h1v1h-1zM386 234h1v1h-1zM388 234h1v1h-1zM390 234h1v1h-1zM392 234h1v1h-1zM394 35h1v1h-1zM394 37h1v1h-1zM394 84h1v1h-1zM394 134h1v1h-1zM394 184h1v1h-1zM394 231h1v1h-1zM394 233h1v1h-1zM394 234h1v1h-1zM394 235h1v1h-1zM394 237h1v1h-1zM394 284h1v1h-1zM394 334h1v1h-1zM394 384h1v1h-1zM394 431h1v1h-1zM394 433h1v1h-1zM396 234h1v1h-1zM398 234h1v1h-1zM400 234h1v1h-1zM402 234h1v1h-1zM404 35h1v1h-1zM404 37h1v1h-1zM404 84h1v1h-1zM404 134h1v1h-1zM404 184h1v1h-1zM404 231h1v1h-1zM404 233h1v1h-1zM404 234h1v1h-1zM404 235h1v1h-1zM404 237h1v1h-1zM404 284h1v1h-1zM404 334h1v1h-1zM404 384h1v1h-1zM404 431h1v1h-1zM404 433h1v1h-1zM406 234h1v1h-1zM408 234h1v1h-1zM410 234h1v1h-1zM412 234h1v1h-1zM414 35h1v1h-1zM414 37h1v1h-1zM414 84h1v1h-1zM414 134h1v1h-1zM414 184h1v1h-1zM414 231h1v1h-1zM414 233h1v1h-1zM414 234h1v1h-1zM414 235h1v1h-1zM414 237h1v1h-1zM414 284h1v1h-1zM414 334h1v1h-1zM414 384h1v1h-1zM414 431h1v1h-1zM414 433h1v1h-1zM416 234h1v1h-1zM418 234h1v1h-1zM420 234h1v1h-1zM422 234h1v1h-1zM424 36h1v1h-1zM424 38h1v1h-1zM424 40h1v1h-1zM424 44h1v1h-1zM424 54h1v1h-1zM424 64h1v1h-1zM424 74h1v1h-1zM424 84h1v1h-1zM424 94h1v1h-1zM424 104h1v1h-1zM424 114h1v1h-1zM424 124h1v1h-1zM424 134h1v1h-1zM424 144h1v1h-1zM424 154h1v1h-1zM424 164h1v1h-1zM424 174h1v1h-1zM424 184h1v1h-1zM424 194h1v1h-1zM424 204h1v1h-1zM424 214h1v1h-1zM424 224h1v1h-1zM424 228h1v1h-1zM424 230h1v1h-1zM424 232h1v1h-1zM424 234h1v1h-1zM424 236h1v1h-1zM424 238h1v1h-1zM424 240h1v1h-1zM424 244h1v1h-1zM424 254h1v1h-1zM424 264h1v1h-1zM424 274h1v1h-1zM424 284h1v1h-1zM424 294h1v1h-1zM424 304h1v1h-1zM424 314h1v1h-1zM424 324h1v1h-1zM424 334h1v1h-1zM424 344h1v1h-1zM424 354h1v1h-1zM424 364h1v1h-1zM424 374h1v1h-1zM424 384h1v1h-1zM424 394h1v1h-1zM424 404h1v1h-1zM424 414h1v1h-1zM424 424h1v1h-1zM424 428h1v1h-1zM424 430h1v1h-1zM424 432h1v1h-1zM426 234h1v1h-1zM428 234h1v1h-1zM430 234h1v1h-1zM432 234h1v1h-1zM434 35h1v1h-1zM434 37h1v1h-1zM434 84h1v1h-1zM434 134h1v1h-1zM434 184h1v1h-1zM434 231h1v1h-1zM434 233h1v1h-1zM434 234h1v1h-1zM434 235h1v1h-1zM434 237h1v1h-1zM434 284h1v1h-1zM434 334h1v1h-1zM434 384h1v1h-1zM434 431h1v1h-1zM434 433h1v1h-1zM436 234h1v1h-1zM438 234h1v1h-1zM440 234h1v1h-1zM442 234h1v1h-1zM444 35h1v1h-1zM444 37h1v1h-1zM444 84h1v1h-1zM444 134h1v1h-1zM444 184h1v1h-1zM444 231h1v1h-1zM444 233h1v1h-1zM444 234h1v1h-1zM444 235h1v1h-1zM444 237h1v1h-1zM444 284h1v1h-1zM444 334h1v1h-1zM444 384h1v1h-1zM444 431h1v1h-1zM444 433h1v1h-1zM446 234h1v1h-1zM448 234h1v1h-1zM450 234h1v1h-1zM452 234h1v1h-1zM454 35h1v1h-1zM454 37h1v1h-1zM454 84h1v1h-1zM454 134h1v1h-1zM454 184h1v1h-1zM454 231h1v1h-1zM454 233h1v1h-1zM454 234h1v1h-1zM454 235h1v1h-1zM454 237h1v1h-1zM454 284h1v1h-1zM454 334h1v1h-1zM454 384h1v1h-1zM454 431h1v1h-1zM454 433h1v1h-1zM456 234h1v1h-1zM458 234h1v1h-1zM460 234h1v1h-1zM462 234h1v1h-1zM464 35h1v1h-1zM464 37h1v1h-1zM464 84h1v1h-1zM464 134h1v1h-1zM464 184h1v1h-1zM464 231h1v1h-1zM464 233h1v1h-1zM464 234h1v1h-1zM464 235h1v1h-1zM464 237h1v1h-1zM464 284h1v1h-1zM464 334h1v1h-1zM464 384h1v1h-1zM464 431h1v1h-1zM464 433h1v1h-1zM466 234h1v1h-1zM468 234h1v1h-1zM470 234h1v1h-1zM472 234h1v1h-1zM474 36h1v1h-1zM474 38h1v1h-1zM474 40h1v1h-1zM474 44h1v1h-1zM474 54h1v1h-1zM474 64h1v1h-1zM474 74h1v1h-1zM474 84h1v1h-1zM474 94h1v1h-1zM474 104h1v1h-1zM474 114h1v1h-1zM474 124h1v1h-1zM474 134h1v1h-1zM474 144h1v1h-1zM474 154h1v1h-1zM474 164h1v1h-1zM474 174h1v1h-1zM474 184h1v1h-1zM474 194h1v1h-1zM474 204h1v1h-1zM474 214h1v1h-1zM474 224h1v1h-1zM474 228h1v1h-1zM474 230h1v1h-1zM474 232h1v1h-1zM474 234h1v1h-1zM474 236h1v1h-1zM474 238h1v1h-1zM474 240h1v1h-1zM474 244h1v1h-1zM474 254h1v1h-1zM474 264h1v1h-1zM474 274h1v1h-1zM474 284h1v1h-1zM474 294h1v1h-1zM474 304h1v1h-1zM474 314h1v1h-1zM474 324h1v1h-1zM474 334h1v1h-1zM474 344h1v1h-1zM474 354h1v1h-1zM474 364h1v1h-1zM474 374h1v1h-1zM474 384h1v1h-1zM474 394h1v1h-1zM474 404h1v1h-1zM474 414h1v1h-1zM474 424h1v1h-1zM474 428h1v1h-1zM474 430h1v1h-1zM474 432h1v1h-1zM476 234h1v1h-1zM478 234h1v1h-1zM480 234h1v1h-1zM482 234h1v1h-1zM484 35h1v1h-1zM484 37h1v1h-1zM484 84h1v1h-1zM484 134h1v1h-1zM484 184h1v1h-1zM484 231h1v1h-1zM484 233h1v1h-1zM484 234h1v1h-1zM484 235h1v1h-1zM484 237h1v1h-1zM484 284h1v1h-1zM484 334h1v1h-1zM484 384h1v1h-1zM484 431h1v1h-1zM484 433h1v1h-1zM486 234h1v1h-1zM488 234h1v1h-1zM490 234h1v1h-1zM492 234h1v1h-1zM494 35h1v1h-1zM494 37h1v1h-1zM494 84h1v1h-1zM494 134h1v1h-1zM494 184h1v1h-1zM494 231h1v1h-1zM494 233h1v1h-1zM494 234h1v1h-1zM494 235h1v1h-1zM494 237h1v1h-1zM494 284h1v1h-1zM494 334h1v1h-1zM494 384h1v1h-1zM494 431h1v1h-1zM494 433h1v1h-1zM496 234h1v1h-1zM498 234h1v1h-1zM500 234h1v1h-1zM502 234h1v1h-1zM504 35h1v1h-1zM504 37h1v1h-1zM504 84h1v1h-1zM504 134h1v1h-1zM504 184h1v1h-1zM504 231h1v1h-1zM504 233h1v1h-1zM504 234h1v1h-1zM504 235h1v1h-1zM504 237h1v1h-1zM504 284h1v1h-1zM504 334h1v1h-1zM504 384h1v1h-1zM504 431h1v1h-1zM504 433h1v1h-1zM506 234h1v1h-1zM508 234h1v1h-1zM510 234h1v1h-1zM512 234h1v1h-1zM514 35h1v1h-1zM514 37h1v1h-1zM514 84h1v1h-1zM514 134h1v1h-1zM514 184h1v1h-1zM514 231h1v1h-1zM514 233h1v1h-1zM514 234h1v1h-1zM514 235h1v1h-1zM514 237h1v1h-1zM514 284h1v1h-1zM514 334h1v1h-1zM514 384h1v1h-1zM514 431h1v1h-1zM514 433h1v1h-1zM516 234h1v1h-1zM518 84h1v1h-1zM518 134h1v1h-1zM518 184h1v1h-1zM518 234h1v1h-1zM518 284h1v1h-1zM518 334h1v1h-1zM518 384h1v1h-1zM520 84h1v1h-1zM520 134h1v1h-1zM520 184h1v1h-1zM520 234h1v1h-1zM520 284h1v1h-1zM520 334h1v1h-1zM520 384h1v1h-1zM521 44h1v1h-1zM521 54h1v1h-1zM521 64h1v1h-1zM521 74h1v1h-1zM521 94h1v1h-1zM521 104h1v1h-1zM521 114h1v1h-1zM521 124h1v1h-1zM521 144h1v1h-1zM521 154h1v1h-1zM521 164h1v1h-1zM521 174h1v1h-1zM521 194h1v1h-1zM521 204h1v1h-1zM521 214h1v1h-1zM521 224h1v1h-1zM521 244h1v1h-1zM521 254h1v1h-1zM521 264h1v1h-1zM521 274h1v1h-1zM521 294h1v1h-1zM521 304h1v1h-1zM521 314h1v1h-1zM521 324h1v1h-1zM521 344h1v1h-1zM521 354h1v1h-1zM521 364h1v1h-1zM521 374h1v1h-1zM521 394h1v1h-1zM521 404h1v1h-1zM521 414h1v1h-1zM521 424h1v1h-1zM522 84h1v1h-1zM522 134h1v1h-1zM522 184h1v1h-1zM522 234h1v1h-1zM522 284h1v1h-1zM522 334h1v1h-1zM522 384h1v1h-1zM523 44h1v1h-1zM523 54h1v1h-1zM523 64h1v1h-1zM523 74h1v1h-1zM523 94h1v1h-1zM523 104h1v1h-1zM523 114h1v1h-1zM523 124h1v1h-1zM523 144h1v1h-1zM523 154h1v1h-1zM523 164h1v1h-1zM523 174h1v1h-1zM523 194h1v1h-1zM523 204h1v1h-1zM523 214h1v1h-1zM523 224h1v1h-1zM523 244h1v1h-1zM523 254h1v1h-1zM523 264h1v1h-1zM523 274h1v1h-1zM523 294h1v1h-1zM523 304h1v1h-1zM523 314h1v1h-1zM523 324h1v1h-1zM523 344h1v1h-1zM523 354h1v1h-1zM523 364h1v1h-1zM523 374h1v1h-1zM523 394h1v1h-1zM523 404h1v1h-1zM523 414h1v1h-1zM523 424h1v1h-1z" fill="#000"/>
<rect x="24.5" y="34.5" width="500" height="400" fill="none" stroke="#000" stroke-width="1"/>
<!-- record view -->
<path d="M148 15h4v1h-2v12h2v1h-4z M397 15h4v14h-4v-1h2v-12h-2z" fill="#000"/>
<path d="M151 22.5H398" stroke="#000" stroke-width="1" stroke-dasharray="1 1" fill="none"/>
<!-- traces -->
<path d="M24 80h2V88h-2zM26 78h2V88h-2zM28 80h2V88h-2zM30 80h2V88h-2zM32 78h2V88h-2zM34 80h2V88h-2zM36 80h2V88h-2zM38 80h2V89h-2zM40 80h2V88h-2zM42 78h2V88h-2zM44 78h2V88h-2zM46 78h2V88h-2zM48 78h2V88h-2zM50 80h2V88h-2zM52 80h2V88h-2zM54 78h2V89h-2zM56 80h2V88h-2zM58 78h2V88h-2zM60 78h2V88h-2zM62 80h2V88h-2zM64 80h2V88h-2zM66 78h2V89h-2zM68 78h2V88h-2zM70 78h2V88h-2zM72 78h2V89h-2zM74 80h2V90h-2zM76 82h2V96h-2zM78 88h2V108h-2zM80 100h2V125h-2zM82 118h2V145h-2zM84 138h2V169h-2zM86 162h2V193h-2zM88 186h2V217h-2zM90 210h2V237h-2zM92 230h2V257h-2zM94 250h2V273h-2zM96 268h2V290h-2zM98 283h2V304h-2zM100 301h2V316h-2zM102 310h2V327h-2zM104 322h2V340h-2zM106 332h2V347h-2zM108 340h2V353h-2zM110 347h2V361h-2zM112 354h2V367h-2zM114 360h2V372h-2zM116 365h2V375h-2zM118 370h2V379h-2zM120 372h2V383h-2zM122 376h2V385h-2zM124 378h2V387h-2zM126 380h2V388h-2zM128 382h2V391h-2zM130 383h2V391h-2zM132 384h2V393h-2zM134 384h2V393h-2zM136 384h2V393h-2zM138 384h2V393h-2zM140 384h2V393h-2zM142 384h2V393h-2zM144 384h2V394h-2zM146 384h2V393h-2zM148 384h2V393h-2zM150 384h2V393h-2zM152 382h2V392h-2zM154 382h2V390h-2zM156 382h2V390h-2zM158 382h2V390h-2zM160 380h2V389h-2zM162 380h2V389h-2zM164 380h2V388h-2zM166 378h2V386h-2zM168 376h2V386h-2zM170 376h2V384h-2zM172 374h2V383h-2zM174 373h2V382h-2zM176 372h2V381h-2zM178 370h2V379h-2zM180 369h2V378h-2zM182 367h2V376h-2zM184 365h2V374h-2zM186 364h2V373h-2zM188 362h2V371h-2zM190 360h2V369h-2zM192 358h2V367h-2zM194 356h2V365h-2zM196 354h2V363h-2zM198 352h2V361h-2zM200 349h2V358h-2zM202 347h2V356h-2zM204 344h2V353h-2zM206 342h2V351h-2zM208 339h2V348h-2zM210 336h2V345h-2zM212 334h2V343h-2zM214 331h2V340h-2zM216 328h2V337h-2zM218 325h2V334h-2zM220 323h2V332h-2zM222 320h2V329h-2zM224 317h2V326h-2zM226 314h2V323h-2zM228 311h2V320h-2zM230 308h2V317h-2zM232 305h2V314h-2zM234 302h2V312h-2zM236 299h2V308h-2zM238 296h2V305h-2zM240 292h2V301h-2zM242 289h2V298h-2zM244 285h2V294h-2zM246 282h2V291h-2zM248 279h2V288h-2zM250 276h2V285h-2zM252 274h2V283h-2zM254 271h2V280h-2zM256 268h2V278h-2zM258 266h2V275h-2zM260 263h2V272h-2zM262 261h2V270h-2zM264 258h2V267h-2zM266 256h2V264h-2zM268 253h2V262h-2zM270 250h2V259h-2zM272 247h2V256h-2zM274 245h2V254h-2zM276 242h2V251h-2zM278 239h2V248h-2zM280 236h2V245h-2zM282 234h2V243h-2zM284 231h2V240h-2zM286 228h2V237h-2zM288 226h2V235h-2zM290 223h2V232h-2zM292 221h2V230h-2zM294 219h2V228h-2zM296 216h2V225h-2zM298 214h2V223h-2zM300 212h2V221h-2zM302 209h2V218h-2zM304 207h2V216h-2zM306 205h2V214h-2zM308 203h2V212h-2zM310 201h2V210h-2zM312 198h2V207h-2zM314 196h2V205h-2zM316 194h2V203h-2zM318 192h2V201h-2zM320 190h2V199h-2zM322 188h2V197h-2zM324 186h2V195h-2zM326 184h2V193h-2zM328 182h2V191h-2zM330 181h2V190h-2zM332 179h2V188h-2zM334 178h2V187h-2zM336 176h2V185h-2zM338 174h2V183h-2zM340 172h2V181h-2zM342 170h2V179h-2zM344 168h2V177h-2zM346 167h2V176h-2zM348 165h2V174h-2zM350 164h2V173h-2zM352 162h2V171h-2zM354 160h2V169h-2zM356 159h2V168h-2zM358 157h2V166h-2zM360 156h2V165h-2zM362 154h2V163h-2zM364 153h2V162h-2zM366 152h2V161h-2zM368 150h2V159h-2zM370 149h2V158h-2zM372 148h2V157h-2zM374 146h2V155h-2zM376 145h2V154h-2zM378 144h2V153h-2zM380 142h2V151h-2zM382 141h2V150h-2zM384 140h2V149h-2zM386 139h2V148h-2zM388 138h2V147h-2zM390 137h2V146h-2zM392 136h2V145h-2zM394 135h2V144h-2zM396 134h2V143h-2zM398 133h2V142h-2zM400 132h2V141h-2zM402 131h2V140h-2zM404 130h2V139h-2zM406 129h2V138h-2zM408 128h2V137h-2zM410 127h2V136h-2zM412 126h2V135h-2zM414 125h2V134h-2zM416 125h2V134h-2zM418 124h2V133h-2zM420 123h2V132h-2zM422 122h2V131h-2zM424 121h2V130h-2zM426 121h2V130h-2zM428 120h2V129h-2zM430 119h2V128h-2zM432 118h2V127h-2zM434 117h2V126h-2zM436 117h2V126h-2zM438 116h2V125h-2zM440 115h2V124h-2zM442 114h2V123h-2zM444 114h2V123h-2zM446 113h2V122h-2zM448 113h2V122h-2zM450 112h2V121h-2zM452 111h2V120h-2zM454 111h2V120h-2zM456 110h2V119h-2zM458 109h2V118h-2zM460 109h2V118h-2zM462 108h2V117h-2zM464 108h2V117h-2zM466 108h2V116h-2zM468 107h2V116h-2zM470 106h2V116h-2zM472 106h2V115h-2zM474 106h2V115h-2zM476 105h2V114h-2zM478 105h2V114h-2zM480 104h2V113h-2zM482 104h2V113h-2zM484 103h2V112h-2zM486 102h2V113h-2zM488 102h2V111h-2zM490 102h2V111h-2zM492 101h2V110h-2zM494 100h2V110h-2zM496 101h2V110h-2zM498 101h2V110h-2zM500 100h2V109h-2zM502 100h2V109h-2zM504 100h2V109h-2zM506 99h2V108h-2zM508 99h2V108h-2zM510 99h2V108h-2zM512 98h2V107h-2zM514 98h2V107h-2zM516 96h2V107h-2zM518 98h2V107h-2zM520 96h2V106h-2zM522 96h2V106h-2z" fill="#000"/>
<path d="M24 136h2V143h-2zM26 136h2V143h-2zM28 136h2V143h-2zM30 136h2V142h-2zM32 136h2V142h-2zM34 134h2V143h-2zM36 135h2V143h-2zM38 136h2V142h-2zM40 136h2V143h-2zM42 136h2V143h-2zM50 143h2V155h-2zM52 147h2V192h-2zM54 180h2V236h-2zM56 229h2V275h-2zM58 265h2V305h-2zM60 291h2V317h-2zM62 307h2V317h-2zM64 299h2V311h-2zM66 293h2V305h-2zM68 291h2V299h-2zM70 290h2V298h-2zM72 292h2V299h-2zM74 294h2V300h-2zM76 294h2V301h-2zM78 294h2V301h-2zM80 294h2V301h-2zM82 294h2V301h-2zM84 294h2V301h-2zM86 294h2V301h-2zM88 294h2V301h-2zM90 294h2V301h-2zM92 294h2V301h-2zM94 294h2V301h-2zM96 294h2V301h-2zM98 294h2V301h-2zM100 294h2V302h-2zM102 295h2V302h-2zM104 295h2V302h-2zM106 296h2V303h-2zM108 296h2V303h-2zM110 297h2V304h-2zM112 298h2V304h-2zM114 297h2V303h-2zM116 296h2V303h-2zM118 297h2V302h-2zM120 298h2V303h-2zM122 298h2V303h-2zM124 296h2V304h-2zM126 297h2V303h-2zM128 297h2V303h-2zM130 297h2V304h-2zM132 298h2V304h-2zM134 298h2V304h-2zM136 298h2V304h-2zM138 298h2V304h-2zM140 298h2V305h-2zM142 298h2V304h-2zM144 296h2V304h-2zM146 295h2V304h-2zM148 294h2V302h-2zM150 293h2V301h-2zM152 292h2V300h-2zM154 292h2V299h-2zM156 292h2V299h-2zM158 292h2V299h-2zM160 292h2V299h-2zM162 292h2V299h-2zM164 292h2V299h-2zM166 292h2V299h-2zM168 292h2V299h-2zM170 292h2V299h-2zM172 292h2V299h-2zM174 292h2V299h-2zM176 292h2V299h-2zM178 292h2V299h-2zM180 292h2V299h-2zM182 292h2V299h-2zM184 292h2V299h-2zM186 292h2V299h-2zM188 292h2V299h-2zM190 292h2V299h-2zM192 292h2V299h-2zM194 292h2V299h-2zM196 292h2V299h-2zM198 292h2V299h-2zM200 292h2V299h-2zM202 292h2V299h-2zM204 292h2V299h-2zM206 292h2V299h-2zM208 292h2V299h-2zM210 292h2V299h-2zM212 292h2V299h-2zM214 292h2V299h-2zM216 292h2V299h-2zM218 292h2V299h-2zM220 292h2V299h-2zM222 292h2V299h-2zM224 291h2V299h-2zM226 292h2V299h-2zM228 292h2V299h-2zM230 292h2V299h-2zM232 292h2V299h-2zM234 292h2V299h-2zM236 292h2V299h-2zM238 292h2V299h-2zM240 292h2V299h-2zM242 292h2V299h-2zM244 292h2V299h-2zM246 292h2V299h-2zM248 292h2V299h-2zM250 292h2V299h-2zM252 292h2V299h-2zM254 292h2V299h-2zM256 292h2V299h-2zM258 292h2V299h-2zM260 292h2V299h-2zM262 292h2V299h-2zM264 292h2V299h-2zM266 292h2V299h-2zM268 292h2V299h-2zM270 292h2V299h-2zM272 292h2V299h-2zM274 292h2V299h-2zM276 292h2V299h-2zM278 292h2V299h-2zM280 292h2V299h-2zM282 292h2V299h-2zM284 292h2V299h-2zM286 292h2V299h-2zM288 291h2V299h-2zM290 292h2V299h-2zM292 292h2V300h-2zM294 292h2V299h-2zM296 292h2V299h-2zM298 292h2V299h-2zM300 292h2V300h-2zM302 292h2V300h-2zM304 292h2V299h-2zM306 292h2V299h-2zM308 292h2V299h-2zM310 292h2V299h-2zM312 292h2V299h-2zM314 292h2V299h-2zM316 292h2V299h-2zM318 292h2V300h-2zM320 292h2V300h-2zM322 292h2V299h-2zM324 291h2V299h-2zM326 292h2V299h-2zM328 292h2V299h-2zM330 292h2V300h-2zM332 292h2V300h-2zM334 292h2V299h-2zM336 292h2V299h-2zM338 292h2V299h-2zM340 292h2V300h-2zM342 292h2V300h-2zM344 292h2V299h-2zM346 292h2V299h-2zM348 292h2V299h-2zM350 292h2V299h-2zM352 292h2V300h-2zM354 292h2V299h-2zM356 292h2V299h-2zM358 292h2V299h-2zM360 291h2V299h-2zM362 292h2V300h-2zM364 292h2V299h-2zM366 292h2V299h-2zM368 292h2V300h-2zM370 292h2V299h-2zM372 292h2V299h-2zM374 292h2V299h-2zM376 292h2V299h-2zM378 292h2V300h-2zM380 292h2V299h-2zM382 292h2V299h-2zM384 292h2V299h-2zM386 292h2V300h-2zM388 292h2V299h-2zM390 292h2V299h-2zM392 292h2V300h-2zM394 292h2V300h-2zM396 292h2V299h-2zM398 292h2V299h-2zM400 292h2V299h-2zM402 292h2V299h-2zM404 292h2V299h-2zM406 291h2V299h-2zM408 292h2V299h-2zM410 292h2V299h-2zM412 292h2V299h-2zM414 292h2V299h-2zM416 292h2V299h-2zM418 292h2V299h-2zM420 292h2V299h-2zM422 292h2V299h-2zM424 291h2V299h-2zM426 292h2V299h-2zM428 292h2V299h-2zM430 292h2V299h-2zM432 292h2V299h-2zM434 292h2V299h-2zM436 292h2V299h-2zM438 292h2V299h-2zM440 292h2V299h-2zM442 292h2V299h-2zM444 292h2V299h-2zM446 291h2V299h-2zM448 292h2V299h-2zM450 292h2V299h-2zM452 292h2V299h-2zM454 292h2V299h-2zM456 292h2V299h-2zM458 292h2V300h-2zM460 291h2V299h-2zM462 292h2V299h-2zM464 292h2V299h-2zM466 292h2V299h-2zM468 292h2V299h-2zM470 292h2V299h-2zM472 292h2V299h-2zM474 292h2V299h-2zM476 292h2V299h-2zM478 292h2V299h-2zM480 292h2V300h-2zM482 292h2V299h-2zM484 292h2V299h-2zM486 292h2V299h-2zM488 292h2V299h-2zM490 292h2V299h-2zM492 292h2V299h-2zM494 292h2V299h-2zM496 292h2V299h-2zM498 292h2V299h-2zM500 292h2V300h-2zM502 292h2V300h-2zM504 292h2V300h-2zM506 292h2V299h-2zM508 292h2V299h-2zM510 292h2V299h-2zM512 292h2V300h-2zM514 292h2V299h-2zM516 292h2V299h-2zM518 292h2V299h-2zM520 292h2V299h-2zM522 292h2V299h-2z" fill="#000"/>
<!-- T markers -->
<rect x="43" y="130" width="12" height="13" fill="#000"/>
<!-- channel markers -->
<rect x="3" y="132" width="21" height="15" fill="#000"/>
<path d="M14 84h6v-3l3 3.5l-3 3.5v-3h-6z" fill="#000" shape-rendering="auto"/>
<path d="M14 138h6v-3l3 3.5l-3 3.5v-3h-6z" fill="#fff" shape-rendering="auto"/>
<g shape-rendering="auto" text-rendering="geometricPrecision">
<text x="5.2" y="89.8" style="font-size:15px;stroke-width:0.7px" textLength="6" lengthAdjust="spacingAndGlyphs">1</text>
<text x="4.7" y="143.6" class="w" style="font-size:14.5px;stroke-width:0.25px" textLength="8" lengthAdjust="spacingAndGlyphs">2</text>
<!-- trigger T markers -->
<text x="157" y="27" style="font-size:16px;stroke-width:0.1px" textLength="10" lengthAdjust="spacingAndGlyphs">T</text>
<text x="44" y="87" style="font-size:16px;stroke-width:0.1px" textLength="10" lengthAdjust="spacingAndGlyphs">T</text>
<text x="44" y="142" class="w" style="font-size:16px;stroke-width:0.1px" textLength="10" lengthAdjust="spacingAndGlyphs">T</text>
<rect x="43" y="136" width="12" height="7" fill="#000" shape-rendering="crispEdges"/>
<!-- top line -->
<text class="t" x="2" y="11.5" textLength="27" lengthAdjust="spacingAndGlyphs">Tek</text>
<rect x="35" y="0" width="43" height="15" fill="#000"/>
<text x="36.5" y="11.5" class="w t" textLength="40" lengthAdjust="spacingAndGlyphs">Stop:</text>
<text class="t" x="83.3" y="11.5" textLength="81" lengthAdjust="spacingAndGlyphs">Single Seq</text>
<text class="t" x="178" y="11.5" textLength="70.5" lengthAdjust="spacingAndGlyphs">1.00GS/s</text>
<!-- bottom line -->
<text x="28.4" y="446.2" textLength="17.6" lengthAdjust="spacingAndGlyphs">C1</text>
<text x="49" y="442.8" style="font-size:9.5px;stroke-width:0.2px" textLength="4.4" lengthAdjust="spacingAndGlyphs">D</text>
<text x="53" y="447" style="font-size:10.5px;stroke-width:0.2px" textLength="5" lengthAdjust="spacingAndGlyphs">S</text>
<text x="71" y="446.2" textLength="74" lengthAdjust="spacing">20.0mVΩ</text>
<rect x="167" y="435" width="31" height="15" fill="#000"/>
<text x="168.3" y="446.2" class="w" textLength="28.5" lengthAdjust="spacingAndGlyphs">Ch2</text>
<text x="210" y="446.2" textLength="60" lengthAdjust="spacing">50.0mV</text>
<text x="300.3" y="446.2" textLength="73" lengthAdjust="spacing">M 12.5ns</text>
<text x="387" y="446.2" textLength="31" lengthAdjust="spacing">Ch4</text>
<path d="M425 436h5v2h-5zM429 437h2v3h-2zM430 439h2v4h-2zM431 442h2v4h-2zM432 445h5v2h-5z" fill="#000" shape-rendering="crispEdges"/>
<text x="453.3" y="446.2" textLength="65.2" lengthAdjust="spacing">−760mV</text>
<text class="d" x="531" y="450" textLength="89.3" lengthAdjust="spacing">1 Apr 1998</text>
<text class="d" x="531.5" y="470" textLength="71" lengthAdjust="spacing">09:34:56</text>
</g>
</svg>
</body></html>
